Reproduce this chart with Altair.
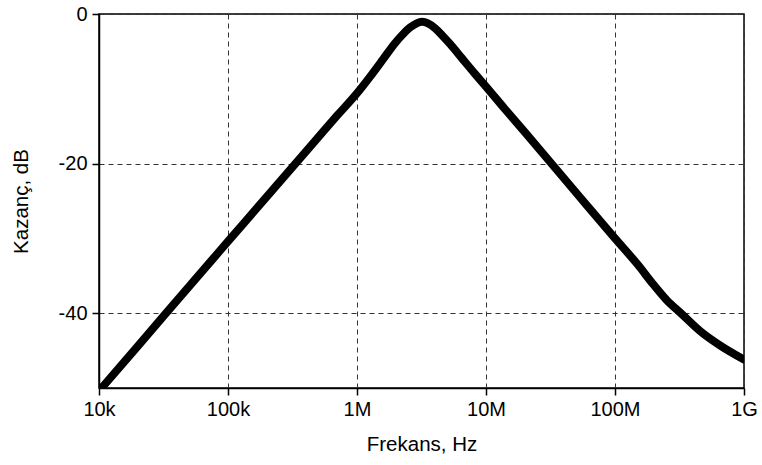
import altair as alt
import pandas as pd

# Frequency response: gain (dB) versus frequency (Hz)
freq_hz = [1e4, 2e4, 5e4, 1e5, 2e5, 5e5, 7e5, 1e6, 1.26e6, 1.6e6, 1.97e6,
           2.3e6, 2.58e6, 2.9e6, 3.19e6, 3.55e6, 4.03e6, 4.6e6, 5.26e6,
           6.5e6, 8.22e6, 1e7, 1.4e7, 2e7, 5e7, 1e8, 1.5e8, 1.97e8, 2.5e8,
           3.29e8, 4.81e8, 6.51e8, 1e9]
gain_db = [-50.4, -44.4, -36.4, -30.4, -24.4, -16.5, -13.6, -10.6, -8.4, -6.0,
           -3.9, -2.6, -1.8, -1.25, -1.05, -1.25, -1.9, -2.9, -4.0,
           -5.9, -8.0, -9.7, -12.7, -15.8, -23.9, -30.0, -33.5, -36.1, -38.2,
           -40.1, -42.7, -44.3, -46.2]

x_ticks = [1e4, 1e5, 1e6, 1e7, 1e8, 1e9]
x_tick_labels = ["10k", "100k", "1M", "10M", "100M", "1G"]
y_ticks = [0, -20, -40]

df = pd.DataFrame({"f": freq_hz, "g": gain_db})

x_label_expr = " : ".join(
    f"datum.value == {v:g} ? '{t}'" for v, t in zip(x_ticks, x_tick_labels)
) + " : ''"

FONT = "Liberation Sans"

common_axis = dict(
    grid=True,
    gridDash=[5, 4],
    gridColor="#333333",
    gridWidth=1,
    tickSize=7,
    tickColor="black",
    tickWidth=1.5,
    domainColor="black",
    domainWidth=1.5,
    labelFontSize=20,
    labelColor="black",
    labelFont=FONT,
    titleFont=FONT,
    titleFontSize=20.5,
    titleFontWeight="normal",
    titleColor="black",
    labelFlush=False,
)

chart = (
    alt.Chart(df)
    .mark_line(color="black", strokeWidth=8, clip=True, interpolate="monotone",
               strokeCap="round", strokeJoin="round")
    .encode(
        x=alt.X(
            "f:Q",
            scale=alt.Scale(type="log", domain=[1e4, 1e9], nice=False),
            axis=alt.Axis(
                title="Frekans, Hz",
                values=x_ticks,
                labelExpr=x_label_expr,
                labelPadding=4,
                titlePadding=15,
                **common_axis,
            ),
        ),
        y=alt.Y(
            "g:Q",
            scale=alt.Scale(domain=[-50, 0], nice=False, zero=False),
            axis=alt.Axis(
                title="Kazanç, dB",
                values=y_ticks,
                labelExpr="'' + datum.value",
                labelPadding=5,
                titlePadding=27,
                **common_axis,
            ),
        ),
    )
    .properties(
        width=645,
        height=374,
        autosize=alt.AutoSizeParams(type="none"),
        padding={"left": 99, "top": 14, "right": 18, "bottom": 77},
        background="white",
    )
    .configure_view(stroke="black", strokeWidth=1.5)
)

chart.save("out.html", embed_options={"renderer": "svg", "actions": False})
